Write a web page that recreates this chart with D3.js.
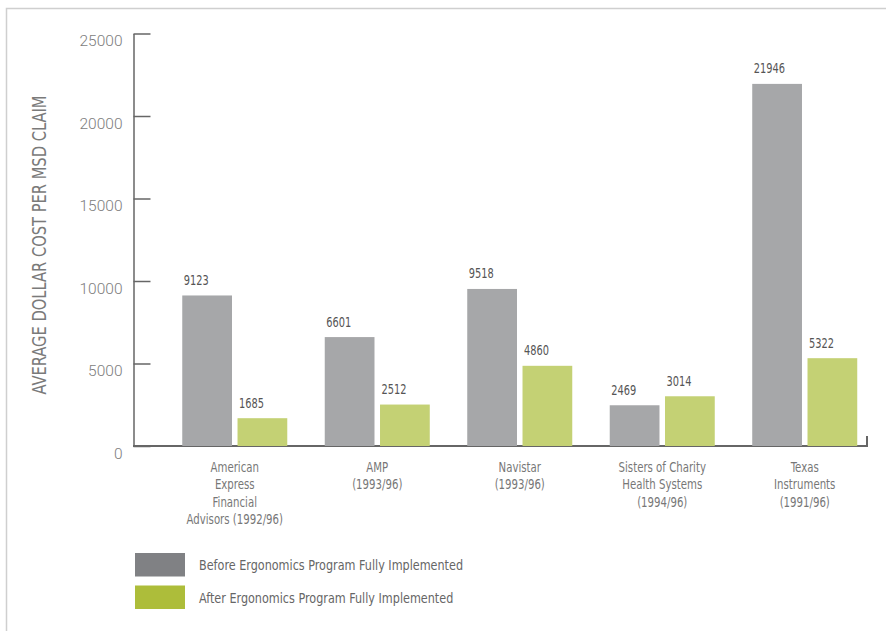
<!DOCTYPE html>
<html>
<head>
<meta charset="utf-8">
<script src="https://cdn.jsdelivr.net/npm/d3@7"></script>
<style>
  body { margin: 0; background: #fff; }
  svg { display: block; }
  text { font-family: "Liberation Sans Narrow", "Arial Narrow", "DejaVu Sans Condensed", sans-serif; }
</style>
</head>
<body>
<svg width="886" height="631"></svg>
<script>
// data
const categories = [
  ["American", "Express", "Financial", "Advisors (1992/96)"],
  ["AMP", "(1993/96)"],
  ["Navistar", "(1993/96)"],
  ["Sisters of Charity", "Health Systems", "(1994/96)"],
  ["Texas", "Instruments", "(1991/96)"]
]
const before = [9123, 6601, 9518, 2469, 21946]
const after = [1685, 2512, 4860, 3014, 5322]
const seriesNames = ["Before Ergonomics Program Fully Implemented", "After Ergonomics Program Fully Implemented"]
const yTicks = [0, 5000, 10000, 15000, 20000, 25000]

const barColors = ["#a6a7a9", "#c4d174"]
const legendColors = ["#808184", "#adbd3a"]

var svg = d3.select('svg')

// no narrow font installed, so squeeze the condensed one a bit
const narrow = (x, y, k, rot) => `translate(${x},${y})` + (rot ? ` rotate(${rot})` : '') + ` scale(${k},1)`

// frame (top + left edge only)
svg.append('path')
  .attr('d', 'M6.5,631 V8.5 H886')
  .attr('fill', 'none')
  .attr('stroke', '#cfcfcf')
  .attr('stroke-width', 1.5)

const y = d3.scaleLinear().domain([0, 25000]).range([446, 33.5])

const x0 = d3.scaleBand()
  .domain(d3.range(categories.length))
  .range([163.5, 876])
  .paddingInner(0.263)
  .paddingOuter(0.1316)

const x1 = d3.scaleBand()
  .domain([0, 1])
  .range([0, x0.bandwidth()])
  .paddingInner(0.1)

// y axis, ticks pointing inward
const yAxis = d3.axisLeft(y)
  .tickValues(yTicks)
  .tickSizeInner(-17)
  .tickSizeOuter(0)
  .tickPadding(11)
  .tickFormat(d3.format('d'))

const ya = svg.append('g')
  .attr('transform', 'translate(133.5,0)')
  .call(yAxis)

ya.select('.domain').attr('stroke', '#666').attr('stroke-width', 1.5)
ya.selectAll('.tick line').attr('stroke', '#666').attr('stroke-width', 1.5)
ya.selectAll('.tick text')
  .attr('fill', '#7d7d7d')
  .attr('dy', '0.8em')
  .style('font-family', 'Roboto, "Liberation Sans", sans-serif')
  .style('font-weight', 300)
  .style('font-size', '15.5px')

// baseline with small end tick
svg.append('path')
  .attr('d', `M133,${y(0)} H867 V${y(0) - 10}`)
  .attr('fill', 'none')
  .attr('stroke', '#666')
  .attr('stroke-width', 2)

// y title
svg.append('text')
  .attr('transform', narrow(46, 245, 0.86, -90))
  .attr('text-anchor', 'middle')
  .attr('fill', '#7a7a7a')
  .style('font-size', '19px')
  .text('AVERAGE DOLLAR COST PER MSD CLAIM')

// bars
const rows = categories.map((c, i) => [before[i], after[i]])

const groups = svg.append('g').selectAll('g')
  .data(rows)
  .enter()
  .append('g')
  .attr('transform', (d, i) => `translate(${x0(i)},0)`)

groups.selectAll('rect')
  .data(d => d)
  .enter()
  .append('rect')
  .attr('x', (d, j) => x1(j))
  .attr('y', d => y(d))
  .attr('width', x1.bandwidth())
  .attr('height', d => y(0) - y(d))
  .attr('fill', (d, j) => barColors[j])

groups.selectAll('text.val')
  .data(d => d)
  .enter()
  .append('text')
  .attr('class', 'val')
  .attr('transform', (d, j) => narrow(x1(j) + 1.5, y(d) - 10.5, 0.78))
  .attr('fill', '#555')
  .style('font-size', '14px')
  .text(d => d)

// category labels
const cl = svg.append('g').selectAll('text')
  .data(categories)
  .enter()
  .append('text')
  .attr('text-anchor', 'middle')
  .attr('fill', '#777')
  .style('font-size', '14.5px')
  .attr('transform', (d, i) => narrow(x0(i) + x0.bandwidth() / 2, 472, 0.78))

cl.selectAll('tspan')
  .data(d => d)
  .enter()
  .append('tspan')
  .attr('x', 0)
  .attr('dy', (d, k) => k === 0 ? 0 : 17.3)
  .text(d => d)

// legend
const lg = svg.append('g').selectAll('g')
  .data(seriesNames)
  .enter()
  .append('g')
  .attr('transform', (d, i) => `translate(135,${553 + i * 32.5})`)

lg.append('rect')
  .attr('width', 50)
  .attr('height', 23.5)
  .attr('fill', (d, i) => legendColors[i])

lg.append('text')
  .attr('transform', narrow(64, 17, 0.86))
  .attr('fill', '#666')
  .style('font-size', '14.5px')
  .text(d => d)
</script>
</body>
</html>
